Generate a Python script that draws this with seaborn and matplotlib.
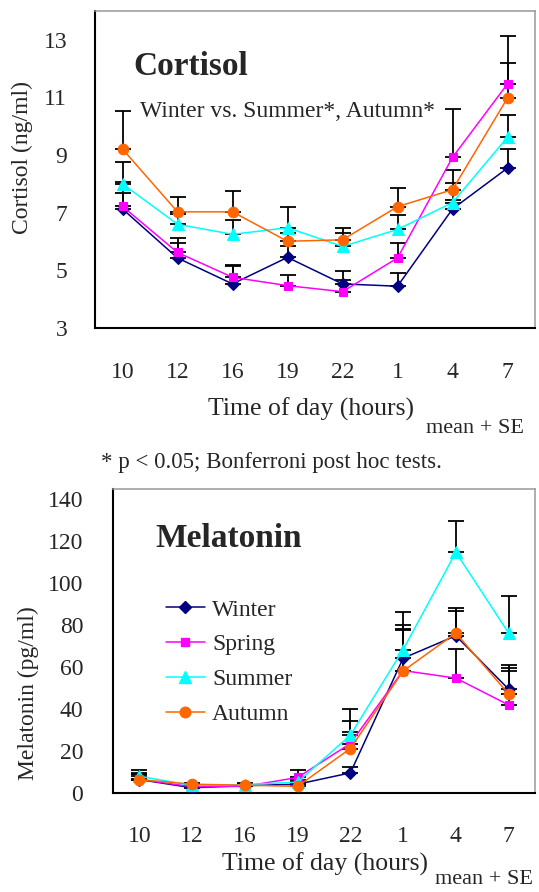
import numpy as np
import pandas as pd
import matplotlib
matplotlib.use("Agg")
import matplotlib.pyplot as plt
from matplotlib.lines import Line2D
import seaborn as sns

# ---------------- data ----------------
hours = ["10", "12", "16", "19", "22", "1", "4", "7"]
seasons = ["Winter", "Spring", "Summer", "Autumn"]

cort_winter = [7.13, 5.43, 4.53, 5.45, 4.53, 4.45, 7.13, 8.55]
cort_spring = [7.22, 5.62, 4.76, 4.47, 4.26, 5.43, 8.92, 11.47]
cort_summer = [8.00, 6.60, 6.25, 6.48, 5.83, 6.42, 7.35, 9.62]
cort_autumn = [9.21, 7.03, 7.03, 6.01, 6.06, 7.21, 7.80, 10.98]

cort_se_winter = [0.55, 0.53, 0.66, 0.40, 0.46, 0.45, 0.30, 0.67]
cort_se_spring = [0.83, 0.49, 0.40, 0.38, 0.41, 0.51, 1.68, 1.65]
cort_se_summer = [0.75, 0.35, 0.50, 0.71, 0.48, 0.50, 0.68, 0.78]
cort_se_autumn = [1.33, 0.53, 0.74, 0.30, 0.41, 0.66, 0.69, 1.21]

mel_winter = [6.4, 2.5, 3.5, 4.2, 9.6, 64.3, 75.0, 49.5]
mel_spring = [6.5, 3.0, 3.2, 7.4, 23.6, 58.4, 54.8, 42.0]
mel_summer = [8.0, 3.6, 4.0, 5.2, 27.6, 68.4, 114.8, 76.3]
mel_autumn = [6.4, 4.2, 3.7, 3.2, 21.2, 58.2, 76.3, 47.2]

mel_se_winter = [3.0, 0.8, 0.8, 1.0, 3.0, 15.6, 12.0, 11.7]
mel_se_spring = [2.8, 0.8, 0.8, 3.6, 10.9, 20.0, 14.0, 16.0]
mel_se_summer = [3.0, 0.8, 0.8, 1.0, 12.4, 18.0, 14.8, 17.8]
mel_se_autumn = [2.5, 0.8, 0.8, 1.0, 8.1, 19.5, 11.9, 12.4]

cort_yticks = [3, 5, 7, 9, 11, 13]
mel_yticks = [0, 20, 40, 60, 80, 100, 120, 140]

# ---------------- style ----------------
colors = {"Winter": "#000080", "Spring": "#FF00FF", "Summer": "#00FFFF", "Autumn": "#FF6600"}
markers = {"Winter": "D", "Spring": "s", "Summer": "^", "Autumn": "o"}
msizes = {"Winter": 6.0, "Spring": 5.2, "Summer": 8.2, "Autumn": 7.6}

sns.set_style("white")
plt.rcParams["font.family"] = ["Liberation Serif", "DejaVu Serif"]

W, H = 539, 892
fig = plt.figure(figsize=(W / 100, H / 100), dpi=100)
ax1 = fig.add_axes([95 / W, 1 - 328 / H, 440 / W, 317 / H])
ax2 = fig.add_axes([113 / W, 1 - 793 / H, 422 / W, 304 / H])


def build(vals, ses):
    rows = []
    for s in seasons:
        for i, h in enumerate(hours):
            rows.append({"season": s, "hour": h, "pos": i, "val": vals[s][i], "se": ses[s][i]})
    return pd.DataFrame(rows)


def draw(ax, df, ylim, yticks, xpad, ypad):
    for s in seasons:
        sub = df[df["season"] == s]
        ax.errorbar(sub["pos"], sub["val"], yerr=[np.zeros(len(sub)), sub["se"]],
                    fmt="none", ecolor="black", elinewidth=1.3, capsize=5.5,
                    capthick=1.3, zorder=2)
        sns.lineplot(data=sub, x="pos", y="val", ax=ax, color=colors[s],
                     marker=markers[s], markersize=msizes[s],
                     markeredgecolor=colors[s], markeredgewidth=0.8,
                     linewidth=1.1, errorbar=None, zorder=3)
    if ax.get_legend() is not None:
        ax.get_legend().remove()
    ax.set_xlim(-0.5, 7.5)
    ax.set_ylim(*ylim)
    ax.set_xticks(range(len(hours)))
    ax.set_xticklabels(hours)
    ax.set_xticks(np.arange(0.5, len(hours) - 1, 1.0), minor=True)
    ax.set_yticks(yticks)
    ax.tick_params(axis="x", which="major", length=0, pad=xpad, labelsize=17)
    ax.tick_params(axis="x", which="minor", direction="in", length=6,
                   width=1.0, color="#555555")
    ax.tick_params(axis="y", which="major", direction="in", length=6,
                   width=1.0, color="#555555", pad=ypad, labelsize=17)
    ax.set_xlabel("")
    ax.set_ylabel("")
    for side in ["left", "bottom"]:
        ax.spines[side].set_color("black")
        ax.spines[side].set_linewidth(1.5)
    for side in ["top", "right"]:
        ax.spines[side].set_color("#999999")
        ax.spines[side].set_linewidth(1.1)


cort = build({"Winter": cort_winter, "Spring": cort_spring,
              "Summer": cort_summer, "Autumn": cort_autumn},
             {"Winter": cort_se_winter, "Spring": cort_se_spring,
              "Summer": cort_se_summer, "Autumn": cort_se_autumn})
mel = build({"Winter": mel_winter, "Spring": mel_spring,
             "Summer": mel_summer, "Autumn": mel_autumn},
            {"Winter": mel_se_winter, "Spring": mel_se_spring,
             "Summer": mel_se_summer, "Autumn": mel_se_autumn})

draw(ax1, cort, (3, 14), cort_yticks, xpad=24.5, ypad=20)
draw(ax2, mel, (0, 145), mel_yticks, xpad=24, ypad=21.5)

# ---------------- texts ----------------
def ft(x, y, s, **kw):
    fig.text(x / W, 1 - y / H, s, **kw)

ft(133, 75, "Cortisol", fontsize=24, fontweight="bold", va="baseline", ha="left")
ft(140, 117, "Winter vs. Summer*, Autumn*", fontsize=17, va="baseline", ha="left")
ft(22, 158, "Cortisol (ng/ml)", fontsize=17, rotation=90, ha="center", va="center")
ft(311, 409, "Time of day (hours)", fontsize=18.5, ha="center", va="center")
ft(475, 428, "mean + SE", fontsize=16, ha="center", va="center")
ft(271, 462, "* p < 0.05; Bonferroni post hoc tests.", fontsize=16.5, ha="center", va="center")

ft(155, 547, "Melatonin", fontsize=24, fontweight="bold", va="baseline", ha="left")
ft(28, 693, "Melatonin (pg/ml)", fontsize=17, rotation=90, ha="center", va="center")
ft(325, 864, "Time of day (hours)", fontsize=18.5, ha="center", va="center")
ft(484, 880, "mean + SE", fontsize=16, ha="center", va="center")

handles = [Line2D([0], [0], color=colors[s], marker=markers[s], markersize=msizes[s],
                  markeredgecolor=colors[s], linewidth=1.1) for s in seasons]
ax2.legend(handles, seasons, loc="upper left",
           bbox_to_anchor=(166 / W, 1 - 599 / H), bbox_transform=fig.transFigure,
           frameon=False, fontsize=17, handlelength=1.65, handletextpad=0.3,
           labelspacing=0.56, borderpad=0, borderaxespad=0)

fig.savefig("out.png", dpi=100)
